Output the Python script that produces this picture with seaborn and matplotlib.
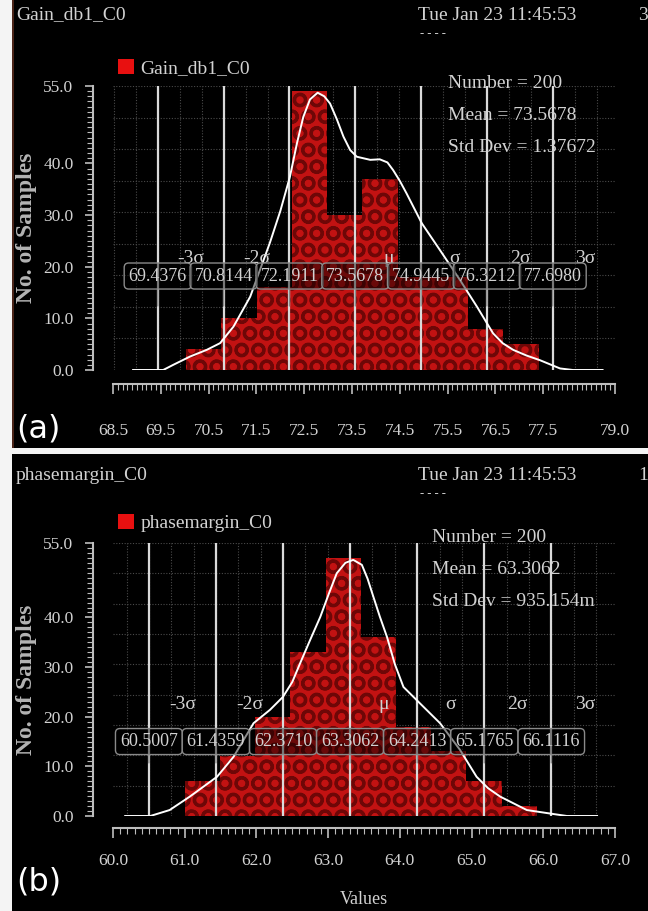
import numpy as np
import pandas as pd
import matplotlib
matplotlib.use("Agg")
import matplotlib.pyplot as plt
import seaborn as sns
from matplotlib.patches import Patch, Rectangle
from matplotlib.ticker import MultipleLocator

# ---------------- data: panel (a) ----------------
a_name = "Gain_db1_C0"
a_number = 200
a_mean_text = "73.5678"
a_std_text = "1.37672"
a_sigma_vals = [69.4376, 70.8144, 72.1911, 73.5678, 74.9445, 76.3212, 77.6980]
a_bin_lo, a_bin_hi, a_nbins = 70.03, 77.40, 10
a_counts = [4, 10, 16, 54, 30, 37, 18, 18, 8, 5]
a_curve_x = [68.92, 69.55, 69.76, 70.11, 70.46, 70.74, 71.02, 71.37, 71.78, 72.00,
             72.20, 72.35, 72.48, 72.62, 72.78, 72.92, 73.04, 73.18, 73.32, 73.46,
             73.60, 73.88, 74.08, 74.24, 74.36, 74.50, 74.64, 74.96, 75.34, 75.76,
             76.11, 76.45, 76.65, 76.87, 77.15, 77.43, 77.85, 78.12, 78.74]
a_curve_y = [0.0, 0.0, 1.0, 2.6, 3.9, 5.2, 8.4, 14.2, 24.6, 30.8,
             37.4, 44.0, 49.0, 52.4, 53.7, 53.0, 51.6, 48.6, 45.2, 42.6,
             41.3, 40.7, 40.8, 40.2, 38.7, 36.6, 34.2, 28.4, 23.2, 17.4,
             12.3, 7.1, 5.2, 3.9, 2.8, 1.9, 0.3, 0.0, 0.0]
a_xticks = [68.5, 69.5, 70.5, 71.5, 72.5, 73.5, 74.5, 75.5, 76.5, 77.5, 79.0]
a_xlim = (68.5, 79.0)
a_page = "3"

# ---------------- data: panel (b) ----------------
b_name = "phasemargin_C0"
b_number = 200
b_mean_text = "63.3062"
b_std_text = "935.154m"
b_sigma_vals = [60.5007, 61.4359, 62.3710, 63.3062, 64.2413, 65.1765, 66.1116]
b_bin_lo, b_bin_hi, b_nbins = 61.00, 65.91, 10
b_counts = [7, 12, 20, 33, 52, 36, 18, 13, 7, 2]
b_curve_x = [60.17, 60.52, 60.79, 61.07, 61.45, 61.68, 61.96, 62.19, 62.37, 62.50,
             62.61, 62.75, 62.89, 63.01, 63.12, 63.24, 63.35, 63.47, 63.55, 63.63,
             63.72, 63.82, 63.93, 64.05, 64.28, 64.56, 64.84, 65.07, 65.23, 65.40,
             65.77, 66.14, 66.33, 66.75]
b_curve_y = [0.0, 0.0, 1.2, 3.9, 7.9, 11.9, 18.7, 21.4, 24.0, 27.0,
             30.8, 35.5, 40.1, 44.8, 48.9, 51.0, 51.6, 50.6, 47.8, 44.2,
             40.2, 36.1, 30.6, 26.0, 22.7, 18.7, 13.3, 7.9, 5.6, 3.9,
             1.2, 0.4, 0.0, 0.0]
b_xticks = [60.0, 61.0, 62.0, 63.0, 64.0, 65.0, 66.0, 67.0]
b_xlim = (60.0, 67.0)
b_page = "1"

y_ticks = [0, 10, 20, 30, 40, 55]
y_lim = (0, 55)
sigma_names = ["-3\u03c3", "-2\u03c3", "", "\u03bc", "\u03c3", "2\u03c3", "3\u03c3"]
timestamp = "Tue Jan 23 11:45:53"
y_label = "No. of Samples"
x_label = "Values"

# ---------------- style ----------------
plt.rcParams['font.family'] = ['Liberation Serif', 'DejaVu Serif']
plt.rcParams['hatch.linewidth'] = 2.2
TXT = '#d2d2d2'
RULER = '#bdbdbd'
BAR = '#c21212'
HATCH = '#6e0707'
LEG = '#e81010'

W, H = 648, 911
fig = plt.figure(figsize=(W / 100, H / 100), dpi=100, facecolor='black')


def fx(px):
    return px / W


def fy(py):
    return 1 - py / H


def ftext(x, y, s, **kw):
    kw.setdefault('color', TXT)
    kw.setdefault('fontsize', 14)
    kw.setdefault('va', 'center')
    fig.text(fx(x), fy(y), s, **kw)


# decorative frame pieces: white page margin, separator, thin brown edge
fig.patches.append(Rectangle((0, fy(454)), 1, 6 / H, transform=fig.transFigure,
                             facecolor='#f4f4f4', edgecolor='none', zorder=0))
fig.patches.append(Rectangle((0, 0), 12 / W, 1, transform=fig.transFigure,
                             facecolor='#f4f4f4', edgecolor='none', zorder=0))
fig.patches.append(Rectangle((fx(12), fy(448)), 2 / W, 448 / H,
                             transform=fig.transFigure,
                             facecolor='#4a2418', edgecolor='none', zorder=0))

ax_a = fig.add_axes([fx(113), fy(370), fx(502), 284 / H])
ax_b = fig.add_axes([fx(113), fy(816), fx(502), 273 / H])


def draw_panel(ax, sigma_vals, lo, hi, nb, counts, cx, cy, xlim, xticks,
               spine_out, tick_pad, name_y, box_y, tip_y):
    ax.set_facecolor('black')
    edges = [float(e) for e in np.linspace(lo, hi, nb + 1)]
    centers = [(edges[i] + edges[i + 1]) / 2 for i in range(nb)]
    hist_df = pd.DataFrame({"value": centers, "count": counts})
    sns.histplot(data=hist_df, x="value", weights="count", bins=edges, ax=ax,
                 color=BAR, facecolor=BAR, edgecolor=HATCH, linewidth=0,
                 hatch='O', alpha=1, zorder=2)
    ax.set_xlim(*xlim)
    ax.set_ylim(*y_lim)

    # dotted background grid (thirds of a sigma, ninths of the height)
    step = (sigma_vals[1] - sigma_vals[0]) / 3
    for yv in np.linspace(y_lim[0], y_lim[1], 10)[1:]:
        ax.axhline(yv, color='#4a4a4a', lw=0.8, ls=(0, (1, 1.5)), zorder=1)
    k0 = int(np.floor((xlim[0] - sigma_vals[0]) / step))
    k1 = int(np.ceil((xlim[1] - sigma_vals[0]) / step))
    for k in range(k0, k1 + 1):
        xv = sigma_vals[0] + k * step
        if xlim[0] < xv <= xlim[1]:
            ax.axvline(xv, color='#4a4a4a', lw=0.8, ls=(0, (1, 1.5)), zorder=1)

    # sigma lines
    for xv in sigma_vals:
        ax.axvline(xv, color='#dadada', lw=1.6, zorder=3)

    # curve
    curve_df = pd.DataFrame({"x": cx, "y": cy})
    sns.lineplot(data=curve_df, x="x", y="y", ax=ax, color='white', lw=1.4,
                 zorder=6)

    # sigma names and value call-outs
    sig = sigma_vals[1] - sigma_vals[0]
    for xv, nm in zip(sigma_vals, sigma_names):
        if nm:
            ax.text(xv + 0.5 * sig, name_y, nm, ha='center', va='center',
                    fontsize=14, color=TXT, zorder=7)
        ax.annotate(f"{xv:.4f}", xy=(xv, tip_y), xytext=(xv, box_y),
                    ha='center', va='center', fontsize=13, color=TXT, zorder=8,
                    bbox=dict(boxstyle='round,pad=0.25', fc=(0, 0, 0, 0.45),
                              ec='#8a8a8a', lw=1),
                    arrowprops=dict(arrowstyle='-', color='#8a8a8a', lw=1,
                                    shrinkA=0, shrinkB=0))

    # rulers
    for s in ['top', 'right']:
        ax.spines[s].set_visible(False)
    ax.spines['left'].set_position(('outward', 14.4))
    ax.spines['bottom'].set_position(('outward', spine_out))
    for s in ['left', 'bottom']:
        ax.spines[s].set_color(RULER)
        ax.spines[s].set_linewidth(1.5)
    ax.set_xticks(xticks)
    ax.set_xticklabels([f"{t:.1f}" for t in xticks])
    ax.xaxis.set_minor_locator(MultipleLocator(0.1))
    ax.set_yticks(y_ticks)
    ax.set_yticklabels([f"{t:.1f}" for t in y_ticks])
    ax.yaxis.set_minor_locator(MultipleLocator(1))
    ax.tick_params(axis='x', which='major', length=7, width=1.2, color=RULER,
                   pad=tick_pad, labelsize=12.5, labelcolor=TXT)
    ax.tick_params(axis='x', which='minor', length=4, width=0.8, color=RULER)
    ax.tick_params(axis='y', which='major', length=6, width=1.2, color=RULER,
                   pad=8, labelsize=12.5, labelcolor=TXT)
    ax.tick_params(axis='y', which='minor', length=4, width=0.8, color=RULER)

    ax.set_ylabel(y_label, fontsize=17, fontweight='bold', color='#b4b4b4')
    ax.yaxis.set_label_coords((27 - 113) / 502, 0.5)
    ax.yaxis.label.set_va('center')
    ax.set_xlabel("")


draw_panel(ax_a, a_sigma_vals, a_bin_lo, a_bin_hi, a_nbins, a_counts,
           a_curve_x, a_curve_y, a_xlim, a_xticks,
           spine_out=10, tick_pad=21, name_y=21.5, box_y=18.2, tip_y=12.4)
draw_panel(ax_b, b_sigma_vals, b_bin_lo, b_bin_hi, b_nbins, b_counts,
           b_curve_x, b_curve_y, b_xlim, b_xticks,
           spine_out=8.6, tick_pad=11, name_y=22.4, box_y=15.0, tip_y=10.7)

ax_b.set_xlabel(x_label, fontsize=13, color=TXT)
ax_b.xaxis.set_label_coords(0.5, (816 - 900) / 273)
ax_b.xaxis.label.set_va('center')

# legends
for ax, name, ly in [(ax_a, a_name, 68), (ax_b, b_name, 523)]:
    ax.legend(handles=[Patch(facecolor=LEG, edgecolor='none', label=name)],
              loc='center left', bbox_to_anchor=(fx(118), fy(ly)),
              bbox_transform=fig.transFigure, frameon=False, fontsize=14,
              handlelength=0.8, handleheight=0.8, handletextpad=0.35,
              borderpad=0, borderaxespad=0, labelcolor=TXT)

# header texts and statistics
for name, top, page, mean_t, std_t, number, sx, sy in [
        (a_name, 15, a_page, a_mean_text, a_std_text, a_number, 448, 83),
        (b_name, 475, b_page, b_mean_text, b_std_text, b_number, 432, 538)]:
    ftext(16, top, name)
    ftext(418, top, timestamp)
    ftext(420, top + 19, "- - - -", fontsize=9)
    ftext(638, top, page)
    ftext(sx, sy, f"Number = {number}")
    ftext(sx, sy + 32, f"Mean = {mean_t}")
    ftext(sx, sy + 64, f"Std Dev = {std_t}")

ftext(16, 429, "(a)", fontsize=23, color='white', family='DejaVu Sans')
ftext(16, 882, "(b)", fontsize=23, color='white', family='DejaVu Sans')

fig.savefig("out.png", dpi=100, facecolor='black')
